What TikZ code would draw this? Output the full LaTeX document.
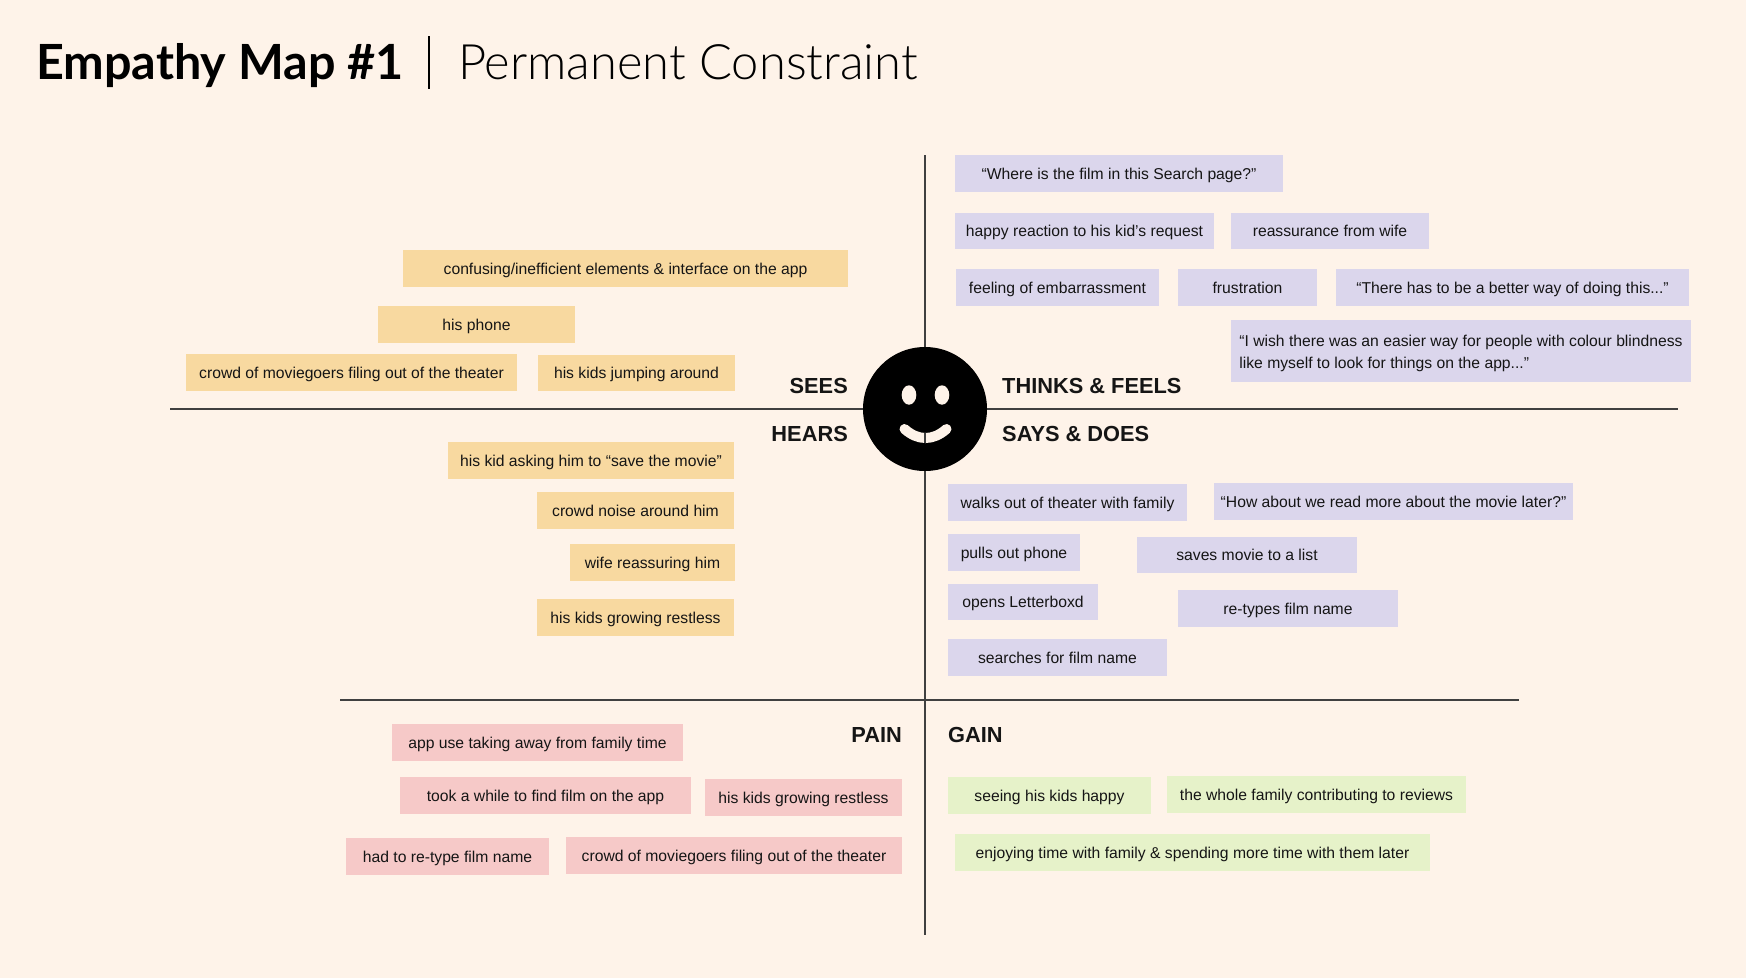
\documentclass[tikz,border=0pt]{standalone}
\usepackage{fontspec}
\setmainfont{Liberation Sans}
\newfontfamily\titlebold{Lato}[UprightFont=* Bold]
\newfontfamily\titlelight{Lato Light}
\definecolor{mybg}{HTML}{FEF3E9}
\definecolor{myyellow}{HTML}{F8D9A0}
\definecolor{mypurple}{HTML}{DBD6EC}
\definecolor{mypink}{HTML}{F6C9C8}
\definecolor{mygreen}{HTML}{E6F2C9}
\definecolor{myink}{HTML}{151515}
\tikzset{
  note/.style={inner sep=0pt,text=myink,font=\fontsize{15.7}{22.3}\selectfont,align=center,text height=11.4pt,text depth=0pt},
  quadrant/.style={inner sep=0pt,text=myink,font=\fontsize{21.8}{26}\selectfont\bfseries},
  axis/.style={line width=1.2pt,draw=black!75}
}
\begin{document}
\begin{tikzpicture}[x=1pt,y=-1pt]
  \fill[mybg] (0,0) rectangle (1746,978);
  \useasboundingbox (0,0) rectangle (1746,978);

  %Title
  \node[anchor=base west,inner sep=0pt,font=\fontsize{48.5}{50}\selectfont\titlebold] (title) at (36,79) {Empathy Map \#1};
  \node[anchor=base west,inner sep=0pt,font=\fontsize{48.8}{50}\selectfont\titlelight] (subtitle) at (458,79) {Permanent Constraint};
  \coordinate (bartop) at (429,36);
  \coordinate (barbot) at (429,89);
  \draw[line width=1.8pt] (bartop) -- (barbot);

  %Axes
  \coordinate (axistop) at (925,155);
  \coordinate (axisbot) at (925,935);
  \coordinate (axisleft) at (170,409);
  \coordinate (axisright) at (1678,409);
  \coordinate (painleft) at (340,700);
  \coordinate (painright) at (1519,700);
  \draw[axis] (axistop) -- (axisbot);
  \draw[axis] (axisleft) -- (axisright);
  \draw[axis] (painleft) -- (painright);

  %Notes: name / left / top / right / bottom / text
  \foreach \nm/\xa/\ya/\xb/\yb/\txt in {
    sa/403/250/848/287/{confusing/inefficient elements \& interface on the app},
    sb/378/306/575/343/{his phone},
    sc/186/354/517/391/{crowd of moviegoers filing out of the theater},
    sd/538/355/735/391/{his kids jumping around},
    ha/448/442/734/479/{his kid asking him to “save the movie”},
    hb/537/492/734/529/{crowd noise around him},
    hc/570/544/735/581/{wife reassuring him},
    hd/537/599/734/636/{his kids growing restless}}
  {
    \node[note,fill=myyellow,minimum width={(\xb-\xa)*1pt},minimum height={(\yb-\ya)*1pt}] (\nm) at ({(\xa+\xb)/2},{(\ya+\yb)/2}) {\txt};
  }
  \foreach \nm/\xa/\ya/\xb/\yb/\txt in {
    ta/955/155/1283/192/{“Where is the film in this Search page?”},
    tb/955/213/1214/249/{happy reaction to his kid’s request},
    tc/1231/213/1429/249/{reassurance from wife},
    td/956/269/1159/306/{feeling of embarrassment},
    te/1178/269/1317/306/{frustration},
    tf/1336/269/1689/306/{“There has to be a better way of doing this...”},
    da/948/484/1187/521/{walks out of theater with family},
    db/1214/483/1573/520/{“How about we read more about the movie later?”},
    dc/948/534/1080/571/{pulls out phone},
    dd/1137/537/1357/573/{saves movie to a list},
    de/948/584/1098/620/{opens Letterboxd},
    df/1178/590/1398/627/{re-types film name},
    dg/948/639/1167/676/{searches for film name}}
  {
    \node[note,fill=mypurple,minimum width={(\xb-\xa)*1pt},minimum height={(\yb-\ya)*1pt}] (\nm) at ({(\xa+\xb)/2},{(\ya+\yb)/2}) {\txt};
  }
  \node[note,fill=mypurple,align=left,minimum width=460pt,minimum height=62pt,text height=35.4pt] (tg) at (1461,351) {“I wish there was an easier way for people with colour blindness\\like myself to look for things on the app...”};
  \foreach \nm/\xa/\ya/\xb/\yb/\txt in {
    pa/392/724/683/761/{app use taking away from family time},
    pb/400/777/691/814/{took a while to find film on the app},
    pc/705/779/902/816/{his kids growing restless},
    pd/346/838/549/875/{had to re-type film name},
    pe/566/837/902/874/{crowd of moviegoers filing out of the theater}}
  {
    \node[note,fill=mypink,minimum width={(\xb-\xa)*1pt},minimum height={(\yb-\ya)*1pt}] (\nm) at ({(\xa+\xb)/2},{(\ya+\yb)/2}) {\txt};
  }
  \foreach \nm/\xa/\ya/\xb/\yb/\txt in {
    ga/948/777/1151/814/{seeing his kids happy},
    gb/1167/776/1466/813/{the whole family contributing to reviews},
    gc/955/834/1430/871/{enjoying time with family \& spending more time with them later}}
  {
    \node[note,fill=mygreen,minimum width={(\xb-\xa)*1pt},minimum height={(\yb-\ya)*1pt}] (\nm) at ({(\xa+\xb)/2},{(\ya+\yb)/2}) {\txt};
  }

  %Quadrant labels
  \node[quadrant,anchor=east] (sees) at (848,386) {SEES};
  \node[quadrant,anchor=east] (hears) at (848,434) {HEARS};
  \node[quadrant,anchor=west] (thinks) at (1002,386) {THINKS \& FEELS};
  \node[quadrant,anchor=west] (says) at (1002,434) {SAYS \& DOES};
  \node[quadrant,anchor=east] (pain) at (902,735) {PAIN};
  \node[quadrant,anchor=west] (gain) at (948,735) {GAIN};

  %Face
  \node[circle,fill=black,inner sep=0pt,minimum size=124pt] (face) at (925,409) {};
  \fill[mybg] (909,395) ellipse (7.3 and 9.7);
  \fill[mybg] (942,395) ellipse (7.3 and 9.7);
  \draw[mybg,line width=10pt,line cap=round] (904.5,429) .. controls (918,441) and (933,441) .. (946.5,429);
  \coordinate (smiletop) at (925,432.5);
  \coordinate (smilebot) at (925,443);
  \draw[axis] (smiletop) -- (smilebot);
\end{tikzpicture}
\end{document}
